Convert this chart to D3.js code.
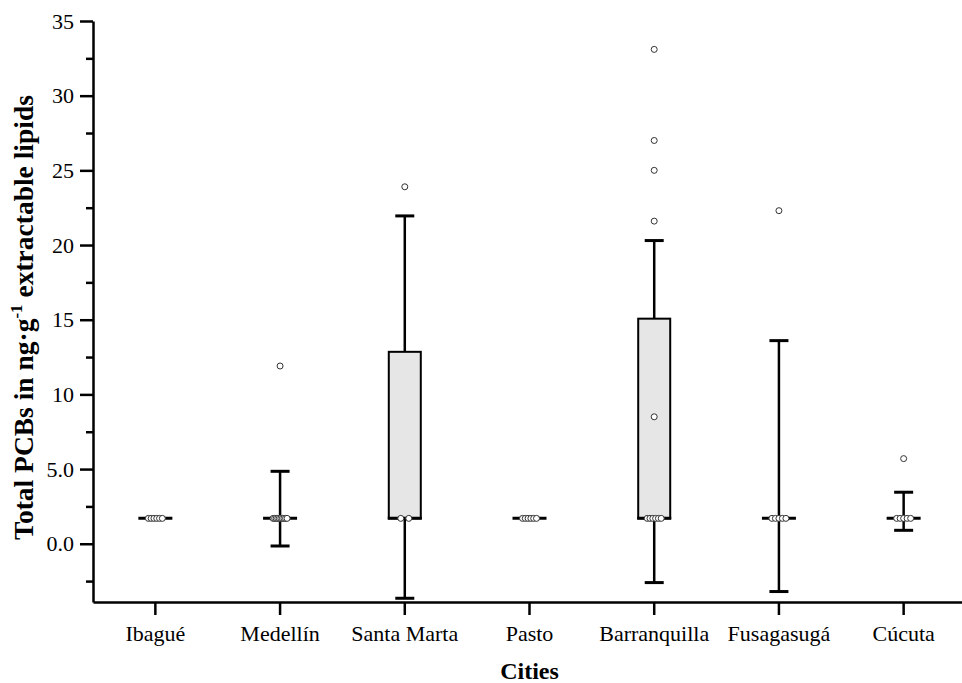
<!DOCTYPE html>
<html>
<head>
<meta charset="utf-8">
<script src="https://cdn.jsdelivr.net/npm/d3@7"></script>
<style>
    body { margin: 0; background: #fff; }
    svg text { font-family: "Liberation Serif", "Times New Roman", serif; fill: #000; }
</style>
</head>
<body>
<div id="chart"></div>
<script>
// data
var cities = ["Ibagué", "Medellín", "Santa Marta", "Pasto", "Barranquilla", "Fusagasugá", "Cúcuta"];
var whiskerLow  = [1.7, -0.15, -3.65, 1.7, -2.6, -3.2, 0.9];
var q1          = [1.7, 1.7, 1.7, 1.7, 1.7, 1.7, 1.7];
var median      = [1.7, 1.7, 1.7, 1.7, 1.7, 1.7, 1.7];
var q3          = [1.7, 1.7, 12.85, 1.7, 15.07, 1.7, 1.7];
var whiskerHigh = [1.7, 4.85, 21.95, 1.7, 20.3, 13.6, 3.45];
var outliers = [[], [11.9], [23.9], [], [33.1, 27.0, 25.0, 21.6, 8.5], [22.3], [5.7]];
// observations sitting on the median
var medianPoints = [
    [1.7, 1.7, 1.7, 1.7, 1.7, 1.7],
    [1.7, 1.7, 1.7, 1.7, 1.7, 1.7, 1.7, 1.7, 1.7, 1.7],
    [1.7, 1.7],
    [1.7, 1.7, 1.7, 1.7, 1.7, 1.7],
    [1.7, 1.7, 1.7, 1.7, 1.7, 1.7],
    [1.7, 1.7, 1.7, 1.7, 1.7],
    [1.7, 1.7, 1.7, 1.7, 1.7]
];
var majorTicks = [0, 5, 10, 15, 20, 25, 30, 35];
var majorLabels = ["0.0", "5.0", "10", "15", "20", "25", "30", "35"];
var minorTicks = [-2.5, 2.5, 7.5, 12.5, 17.5, 22.5, 27.5, 32.5];

var W = 962, H = 683;
var plotLeft = 93, plotRight = 966, plotTop = 21, plotBottom = 602;

var svg = d3.select("#chart").append("svg")
    .attr("width", W)
    .attr("height", H);

var x = d3.scaleBand().domain(cities).range([plotLeft, plotRight]).padding(0);
var y = d3.scaleLinear().domain([-3.9, 35]).range([plotBottom, plotTop]);
var cx = function(i) { return x(cities[i]) + x.bandwidth() / 2; };

// Y axis, minor ticks first
svg.append("g")
    .attr("transform", "translate(" + plotLeft + ",0)")
    .call(d3.axisLeft(y).tickValues(minorTicks).tickSize(7).tickFormat("").tickSizeOuter(0))
    .call(function(g) { g.select(".domain").remove(); })
    .selectAll("line").attr("stroke", "#000").attr("stroke-width", 2.5);

var yAxis = svg.append("g")
    .attr("transform", "translate(" + plotLeft + ",0)")
    .call(d3.axisLeft(y).tickValues(majorTicks).tickSize(13).tickPadding(6).tickSizeOuter(0)
        .tickFormat(function(d, i) { return majorLabels[i]; }));
yAxis.select(".domain").attr("stroke", "#000").attr("stroke-width", 2.5);
yAxis.selectAll("line").attr("stroke", "#000").attr("stroke-width", 2.5);
yAxis.selectAll("text").style("font-size", "22px").attr("fill", "#000");

// X axis
var xAxis = svg.append("g")
    .attr("transform", "translate(0," + plotBottom + ")")
    .call(d3.axisBottom(x).tickSize(13).tickSizeOuter(0));
xAxis.select(".domain").attr("stroke", "#000").attr("stroke-width", 2.5);
xAxis.selectAll("line").attr("stroke", "#000").attr("stroke-width", 2.5);
xAxis.selectAll("text").style("font-size", "22px").attr("fill", "#000")
    .attr("y", 39).attr("dy", 0);

// boxes
var boxW = 32, capW = 19, medW = 34;
var plot = svg.append("g");

cities.forEach(function(c, i) {
    var g = plot.append("g");
    var xc = cx(i);

    // whisker
    g.append("line")
        .attr("x1", xc).attr("x2", xc)
        .attr("y1", y(whiskerLow[i])).attr("y2", y(whiskerHigh[i]))
        .attr("stroke", "#000").attr("stroke-width", 2.5);

    // box
    if (q3[i] > q1[i]) {
        g.append("rect")
            .attr("x", xc - boxW / 2)
            .attr("y", y(q3[i]))
            .attr("width", boxW)
            .attr("height", y(q1[i]) - y(q3[i]))
            .attr("fill", "#e6e6e6")
            .attr("stroke", "#000").attr("stroke-width", 2);
    }

    // caps
    [whiskerLow[i], whiskerHigh[i]].forEach(function(v) {
        g.append("line")
            .attr("x1", xc - capW / 2).attr("x2", xc + capW / 2)
            .attr("y1", y(v)).attr("y2", y(v))
            .attr("stroke", "#000").attr("stroke-width", 3);
    });

    // median
    g.append("line")
        .attr("x1", xc - medW / 2).attr("x2", xc + medW / 2)
        .attr("y1", y(median[i])).attr("y2", y(median[i]))
        .attr("stroke", "#000").attr("stroke-width", 3);

    // points on the median, spread sideways
    var pts = medianPoints[i], n = pts.length;
    var step = n > 1 ? Math.min(8, 14 / (n - 1)) : 0;
    g.selectAll("circle.mp").data(pts).enter().append("circle")
        .attr("class", "mp")
        .attr("cx", function(d, k) { return xc + (k - (n - 1) / 2) * step; })
        .attr("cy", function(d) { return y(d); })
        .attr("r", 3)
        .attr("fill", "#fff")
        .attr("stroke", "#333").attr("stroke-width", 1);

    // outliers
    g.selectAll("circle.out").data(outliers[i]).enter().append("circle")
        .attr("class", "out")
        .attr("cx", xc)
        .attr("cy", function(d) { return y(d); })
        .attr("r", 3)
        .attr("fill", "#fff")
        .attr("stroke", "#333").attr("stroke-width", 1);
});

// axis titles
svg.append("text")
    .attr("x", (plotLeft + plotRight) / 2)
    .attr("y", 679)
    .attr("text-anchor", "middle")
    .style("font-size", "24px")
    .style("font-weight", "bold")
    .text("Cities");

var yt = svg.append("text")
    .attr("transform", "translate(33," + ((95 + 540) / 2) + ") rotate(-90)")
    .attr("text-anchor", "middle")
    .style("font-size", "27.5px")
    .style("font-weight", "bold");
yt.append("tspan").text("Total PCBs in ng·g");
yt.append("tspan").attr("dy", -11).style("font-size", "17px").text("-1");
yt.append("tspan").attr("dy", 11).text(" extractable lipids");
</script>
</body>
</html>
